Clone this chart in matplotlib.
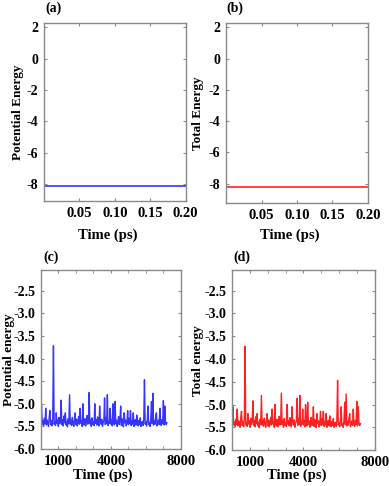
import numpy as np
import matplotlib
matplotlib.use('Agg')
import matplotlib.pyplot as plt
from matplotlib.ticker import MultipleLocator

plt.rcParams['font.family'] = ['Liberation Serif', 'DejaVu Serif']
plt.rcParams['font.weight'] = 'bold'
plt.rcParams['axes.unicode_minus'] = False

# short runs (ps) - energies stay flat
t_short = [0.0, 0.2]
pot_short = [-8.1, -8.1]
tot_short = [-8.2, -8.2]

# long run (ps), one reading every 40 ps
pot_long = [
    -5.30, -5.05, -5.45, -5.38, -5.48, -5.32, -5.44, -5.10, -5.47, -5.36,
    -5.42, -5.50, -5.28, -5.15, -5.46, -5.37, -5.49, -5.33, -3.72, -5.45,
    -5.40, -5.48, -5.20, -5.43, -5.36, -5.50, -5.30, -5.44, -5.38, -4.92,
    -5.46, -5.35, -5.49, -5.27, -5.42, -5.20, -5.47, -5.39, -5.51, -5.33,
    -5.44, -4.80, -5.45, -5.36, -5.48, -5.30, -5.41, -5.50, -5.37, -5.20,
    -5.46, -5.34, -5.49, -5.40, -5.28, -5.45, -5.10, -5.43, -5.38, -5.50,
    -5.00, -5.42, -5.47, -5.33, -5.49, -5.39, -5.26, -5.45, -5.41, -4.75,
    -5.44, -5.36, -5.50, -5.31, -5.46, -5.40, -5.48, -5.00, -5.43, -5.35,
    -5.47, -5.29, -5.42, -5.49, -5.05, -5.38, -5.45, -5.34, -5.50, -5.41,
    -5.37, -4.87, -5.46, -5.32, -5.44, -4.80, -5.48, -5.39, -5.43, -5.10,
    -5.45, -5.35, -5.49, -5.00, -5.41, -5.47, -4.95, -5.44, -5.36, -5.50,
    -5.40, -5.28, -5.46, -5.38, -5.05, -5.48, -5.33, -5.45, -5.51, -5.20,
    -5.42, -5.36, -5.49, -5.40, -5.15, -5.46, -5.32, -5.44, -5.15, -5.48,
    -5.38, -5.45, -5.20, -5.50, -5.41, -5.35, -5.47, -5.25, -5.43, -5.49,
    -5.37, -5.46, -5.31, -5.50, -5.42, -5.39, -5.48, -5.34, -4.47, -5.45,
    -5.40, -5.49, -5.36, -5.05, -5.46, -5.42, -5.50, -5.33, -4.95, -5.44,
    -4.77, -5.47, -5.38, -5.45, -5.30, -5.20, -5.49, -5.41, -5.36, -5.46,
    -5.10, -5.43, -5.48, -5.35, -5.44, -4.93, -5.47, -5.05, -5.40, -5.46,
    -5.42,
]
tot_long = list(pot_long)
t_long = np.arange(len(pot_long)) * 40

blue = '#3535ff'
red = '#ff2020'
spine_c = '#8a8a8a'

fig = plt.figure(figsize=(3.89, 4.86), dpi=100)


def style(ax, xlab, ylab, panel, xl, yl, pl):
    for s in ax.spines.values():
        s.set_color(spine_c)
        s.set_linewidth(1.0)
    ax.tick_params(which='both', direction='in', top=True, right=True,
                   color=spine_c, labelsize=10, pad=4)
    ax.tick_params(axis='x', labelsize=10.5)
    ax.tick_params(which='major', length=2.5)
    ax.tick_params(which='minor', length=2)
    ax.set_xlabel(xlab, fontsize=10.5, fontweight='bold')
    ax.set_ylabel(ylab, fontsize=9.5, fontweight='bold')
    ax.xaxis.set_label_coords(*xl)
    ax.yaxis.set_label_coords(*yl)
    ax.xaxis.label.set_va('center')
    ax.yaxis.label.set_va('center')
    ax.text(pl[0], pl[1], panel, transform=ax.transAxes, fontsize=10,
            fontweight='bold', va='center', ha='left')


# (a)
ax = fig.add_axes([0.113, 0.586, 0.364, 0.366])
ax.plot(t_short, pot_short, color=blue, lw=1.2)
ax.set_xlim(0, 0.2)
ax.set_ylim(-9.1, 2.25)
ax.set_xticks([0.05, 0.10, 0.15, 0.20])
ax.set_xticklabels(['0.05', '0.10', '0.15', '0.20'])
ax.set_yticks([2, 0, -2, -4, -6, -8])
style(ax, 'Time (ps)', 'Potential Energy', '(a)',
      (0.45, -0.191), (-0.183, 0.5), (0.012, 1.083))

# (b)
ax = fig.add_axes([0.581, 0.582, 0.365, 0.370])
ax.plot(t_short, tot_short, color=red, lw=1.2)
ax.set_xlim(0, 0.2)
ax.set_ylim(-9.25, 2.25)
ax.set_xticks([0.05, 0.10, 0.15, 0.20])
ax.set_xticklabels(['0.05', '0.10', '0.15', '0.20'])
ax.set_yticks([2, 0, -2, -4, -6, -8])
style(ax, 'Time (ps)', 'Total Energy', '(b)',
      (0.45, -0.178), (-0.196, 0.5), (0.0, 1.083))

# (c)
ax = fig.add_axes([0.105, 0.076, 0.360, 0.368])
ax.plot(t_long, pot_long, color=blue, lw=1.0)
ax.set_xlim(0, 8000)
ax.set_ylim(-6.0, -2.05)
ax.set_xticks([1000, 4000, 8000])
ax.xaxis.set_minor_locator(MultipleLocator(1000))
ax.set_yticks([-2.5, -3.0, -3.5, -4.0, -4.5, -5.0, -5.5, -6.0])
style(ax, 'Time (ps)', 'Potential energy', '(c)',
      (0.44, -0.145), (-0.229, 0.5), (0.016, 1.071))

# (d)
ax = fig.add_axes([0.597, 0.074, 0.366, 0.370])
ax.plot(t_long, tot_long, color=red, lw=1.0)
ax.set_xlim(0, 8000)
ax.set_ylim(-6.0, -2.05)
ax.set_xticks([1000, 4000, 8000])
ax.xaxis.set_minor_locator(MultipleLocator(1000))
ax.set_yticks([-2.5, -3.0, -3.5, -4.0, -4.5, -5.0, -5.5, -6.0])
style(ax, 'Time (ps)', 'Total energy', '(d)',
      (0.45, -0.139), (-0.237, 0.5), (0.007, 1.07))

fig.savefig('out.png', dpi=100)
